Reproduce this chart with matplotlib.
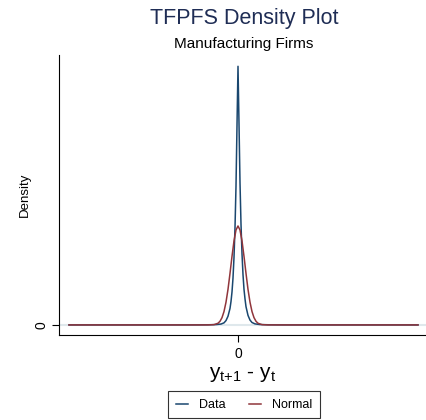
import numpy as np
import matplotlib.pyplot as plt

plt.rcParams['font.family'] = ['Liberation Sans', 'DejaVu Sans']
plt.rcParams['mathtext.fontset'] = 'custom'
plt.rcParams['mathtext.rm'] = 'Liberation Sans'
plt.rcParams['mathtext.it'] = 'Liberation Sans'

# kernel density of y(t+1) - y(t)
data_x = [-1.69, -0.6, -0.4, -0.3, -0.22, -0.17, -0.14, -0.12, -0.10, -0.08, -0.07,
          -0.06, -0.05, -0.04, -0.03, -0.02, -0.01, 0.0, 0.01, 0.02, 0.03, 0.04,
          0.05, 0.06, 0.07, 0.08, 0.10, 0.12, 0.14, 0.17, 0.22, 0.3, 0.4, 0.6, 1.8]
data_y = [0.0, 0.0, 0.002, 0.008, 0.02, 0.05, 0.12, 0.25, 0.5, 0.95, 1.35,
          1.9, 2.7, 3.9, 5.6, 8.0, 11.5, 14.9, 11.6, 8.2, 5.8, 4.1,
          2.9, 2.05, 1.5, 1.05, 0.55, 0.28, 0.14, 0.06, 0.022, 0.009, 0.002, 0.0, 0.0]

# matching normal density
norm_x = [-1.69, -0.5, -0.3, -0.24, -0.2, -0.18, -0.16, -0.14, -0.12, -0.10, -0.08,
          -0.06, -0.04, -0.02, 0.0, 0.02, 0.04, 0.06, 0.08, 0.10, 0.12, 0.14,
          0.16, 0.18, 0.2, 0.24, 0.3, 0.5, 1.8]
norm_y = [0.0, 0.0, 0.001, 0.016, 0.096, 0.21, 0.42, 0.77, 1.31, 2.05, 2.97,
          3.95, 4.84, 5.47, 5.70, 5.47, 4.84, 3.95, 2.97, 2.05, 1.31, 0.77,
          0.42, 0.21, 0.096, 0.016, 0.001, 0.0, 0.0]

navy = '#1a476f'
maroon = '#90353b'

fig = plt.figure(figsize=(4.26, 4.20), dpi=100)
ax = fig.add_axes([0.1385, 0.2024, 0.8615, 0.6666])

ax.axhline(0, color='#dfe8ec', lw=1.5, zorder=0)
ax.plot(data_x, data_y, color=navy, lw=1.1, label='Data')
ax.plot(norm_x, norm_y, color=maroon, lw=1.1, label='Normal')

ax.set_xlim(-1.79, 1.88)
ax.set_ylim(-0.58, 15.55)
ax.set_xticks([0])
ax.set_yticks([0])
ax.set_yticklabels(['0'], rotation=90, va='center')
ax.tick_params(labelsize=10, length=5, width=0.8)
ax.tick_params(axis='y', pad=2.5)
for s in ['top', 'right']:
    ax.spines[s].set_visible(False)

ax.set_ylabel('Density', fontsize=9.5, labelpad=3)
ax.set_xlabel(r'y$_{\mathrm{t{+}1}}$ - y$_{\mathrm{t}}$', fontsize=15, labelpad=3)

fig.text(0.573, 0.955, 'TFPFS Density Plot', ha='center', va='center',
         fontsize=15.5, color='#1f2d55')
fig.text(0.573, 0.895, 'Manufacturing Firms', ha='center', va='center',
         fontsize=11, color='black')

leg = fig.legend(loc='upper center', bbox_to_anchor=(0.573, 0.068), ncol=2,
                 fontsize=9, frameon=True, fancybox=False, edgecolor='black',
                 handlelength=1.0, handletextpad=0.9, columnspacing=1.8,
                 borderpad=0.6, borderaxespad=0)
leg.get_frame().set_linewidth(0.8)

fig.savefig('out.png', dpi=100)
